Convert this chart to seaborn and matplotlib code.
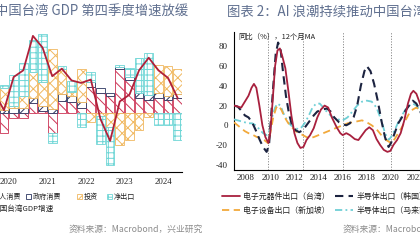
import numpy as np
import pandas as pd
import matplotlib
matplotlib.use("Agg")
import matplotlib.pyplot as plt
import seaborn as sns
from matplotlib.patches import Patch
from matplotlib.lines import Line2D

# ---------------- left chart data (contributions, ppt) ----------------
quarters = ["2020Q1", "2020Q2", "2020Q3", "2020Q4",
            "2021Q1", "2021Q2", "2021Q3", "2021Q4",
            "2022Q1", "2022Q2", "2022Q3", "2022Q4",
            "2023Q1", "2023Q2", "2023Q3", "2023Q4",
            "2024Q1", "2024Q2", "2024Q3", "2024Q4"]
private_cons = [0.6, -2.4, -0.6, -0.6, 1.2, 0.3, -2.3, 1.5, 1.3, 0.6, 3.1, 2.4,
                2.0, 5.3, 4.0, 1.8, 1.6, 1.8, 1.6, 1.8]
gov_cons = [0.4, 0.4, 0.6, 0.6, 0.6, 0.6, 0.5, 0.8, 0.7, 0.7, 0.6, 0.6,
            0.4, 0.2, 0.3, 0.6, 0.6, 0.6, 0.5, 0.5]
investment = [1.0, 2.6, 0.2, 1.4, 3.1, 2.8, 7.1, 3.0, 0.5, 3.9, -1.0, -0.3,
              -1.7, -3.8, -3.2, -2.0, -0.5, 3.3, 3.5, 3.0]
net_exports = [0.5, 0.3, 3.7, 4.0, 3.8, 5.7, -1.2, 0.3, 1.3, -1.6, 1.2, -3.4,
               -4.5, 0.2, 1.1, 4.2, 5.0, -1.4, -1.4, -3.2]
gdp_growth = [2.5, 0.35, 4.3, 5.1, 9.2, 7.8, 4.4, 5.3, 3.9, 3.6, 4.0, -0.7,
              -3.3, 1.4, 2.2, 5.1, 6.6, 5.1, 4.2, 1.8]
year_labels = ["2020", "2021", "2022", "2023", "2024"]
left_series_names = ["私人消费", "政府消费", "投资", "净出口"]
gdp_name = "中国台湾GDP增速"

# ---------------- right chart data (yoy %, 12m MA) ----------------
tw_x = [2007.0, 2007.3, 2007.6, 2007.9, 2008.2, 2008.45, 2008.65, 2008.85, 2009.1, 2009.35,
        2009.6, 2009.85, 2010.0, 2010.2, 2010.4, 2010.6, 2010.8, 2011.0, 2011.25, 2011.5,
        2011.75, 2012.0, 2012.25, 2012.5, 2012.75, 2013.0, 2013.3, 2013.6, 2013.9, 2014.2,
        2014.5, 2014.8, 2015.1, 2015.5, 2015.8, 2016.0, 2016.3, 2016.6, 2017.0, 2017.3,
        2017.6, 2017.9, 2018.2, 2018.5, 2018.8, 2019.1, 2019.4, 2019.7, 2019.95, 2020.2,
        2020.5, 2020.8, 2021.1, 2021.4, 2021.65, 2021.85, 2022.1, 2022.4, 2022.7, 2023.0]
tw_y = [20, 19, 18, 24, 30, 38, 42, 38, 20, 0,
        -12, -18, -8, 25, 60, 76, 78, 70, 58, 35,
        10, -8, -18, -23, -22, -15, -10, -3, 8, 16,
        20, 18, 8, -2, -8, -10, -8, -10, -14, -15,
        -10, -5, -2, -5, -14, -20, -25, -27, -26, -20,
        -15, -8, 5, 22, 32, 35, 32, 22, 10, -2]
kr_x = [2007.0, 2007.3, 2007.6, 2007.9, 2008.2, 2008.5, 2008.8, 2009.1, 2009.4, 2009.7,
        2009.9, 2010.05, 2010.25, 2010.45, 2010.65, 2010.85, 2011.05, 2011.3, 2011.55, 2011.8,
        2012.1, 2012.4, 2012.7, 2013.0, 2013.3, 2013.6, 2013.9, 2014.3, 2014.7, 2015.0,
        2015.3, 2015.7, 2016.0, 2016.3, 2016.6, 2016.9, 2017.2, 2017.5, 2017.8, 2018.0,
        2018.3, 2018.6, 2018.9, 2019.2, 2019.5, 2019.8, 2020.0, 2020.3, 2020.6, 2020.9,
        2021.2, 2021.5, 2021.8, 2022.1, 2022.4, 2022.7, 2023.0]
kr_y = [20, 19, 15, 10, 8, 3, -5, -14, -22, -27,
        -20, 5, 40, 72, 84, 78, 55, 30, 12, 0,
        -5, -7, -5, 0, 5, 10, 14, 16, 17, 14,
        8, 3, 1, 0, 2, 8, 20, 40, 55, 60,
        55, 42, 25, 5, -12, -22, -18, -8, 2, 8,
        15, 20, 25, 22, 15, 5, -10]
sg_x = [2007.0, 2007.3, 2007.6, 2007.9, 2008.2, 2008.6, 2008.9, 2009.2, 2009.5, 2009.8,
        2010.0, 2010.25, 2010.5, 2010.7, 2010.95, 2011.2, 2011.5, 2011.8, 2012.1, 2012.4,
        2012.7, 2013.0, 2013.3, 2013.6, 2014.0, 2014.4, 2014.8, 2015.2, 2015.6, 2016.0,
        2016.4, 2016.8, 2017.2, 2017.6, 2018.0, 2018.4, 2018.8, 2019.2, 2019.6, 2020.0,
        2020.3, 2020.6, 2020.9, 2021.2, 2021.5, 2021.8, 2022.1, 2022.4, 2022.7, 2023.0]
sg_y = [3, 0, -3, -6, -8, -10, -12, -13, -15, -18,
        -8, 8, 18, 20, 15, 8, 2, -2, -6, -8,
        -10, -12, -13, -12, -10, -8, -6, -4, -2, 0,
        2, 3, 4, 5, 3, 0, -4, -10, -15, -18,
        -14, -8, -2, 5, 12, 16, 18, 15, 8, 0]
my_x = [2007.0, 2007.3, 2007.6, 2007.9, 2008.2, 2008.5, 2008.8, 2009.1, 2009.4, 2009.7,
        2009.95, 2010.15, 2010.4, 2010.6, 2010.85, 2011.1, 2011.4, 2011.7, 2012.0, 2012.3,
        2012.6, 2012.9, 2013.2, 2013.5, 2013.8, 2014.1, 2014.4, 2014.8, 2015.2, 2015.6,
        2016.0, 2016.4, 2016.8, 2017.2, 2017.6, 2018.0, 2018.4, 2018.8, 2019.2, 2019.5,
        2019.8, 2020.0, 2020.3, 2020.6, 2020.9, 2021.2, 2021.5, 2021.8, 2022.1, 2022.4,
        2022.7, 2023.0]
my_y = [6, 5, 4, 3, 2, 2, 0, -4, -8, -10,
        -5, 8, 18, 22, 20, 12, 5, 0, -2, -4,
        -2, 3, 10, 18, 22, 22, 18, 12, 8, 6,
        5, 8, 14, 20, 24, 25, 24, 18, 5, -8,
        -15, -12, -5, 3, 10, 16, 20, 22, 20, 15,
        8, 2]
right_series_names = ["电子元器件出口（台湾）", "半导体出口（韩国）",
                      "电子设备出口（新加坡）", "半导体出口（马来西亚）"]
right_xticks = [2008, 2010, 2012, 2014, 2016, 2018, 2020, 2022, 2024]
right_yticks = [-40, -20, 0, 20, 40, 60, 80]
event_lines = [2009.8, 2012.7, 2016.0, 2020.0]

# ---------------- styling ----------------
W, H = 420, 240
sns.set_theme(style="white")
plt.rcParams['font.family'] = ['Noto Sans CJK SC', 'DejaVu Sans']
plt.rcParams['hatch.linewidth'] = 0.7
plt.rcParams['axes.unicode_minus'] = False

C_PRIV, C_GOV, C_INV, C_NET = "#cc3355", "#2b3560", "#f0b860", "#6fd6d6"
C_GDP = "#b0203a"
C_TW, C_KR, C_SG, C_MY = "#a8203e", "#1c2340", "#f2a93b", "#6fcfd6"
TITLE_C = "#5f6f8f"
SRC_C = "#8c8c8c"
SERIF = "Liberation Serif"

def fx(x):
    return x / W

def fy(y):
    return 1 - y / H

fig = plt.figure(figsize=(W / 100, H / 100), dpi=100)
fig.patch.set_facecolor("white")

# ================= left chart =================
axL = fig.add_axes([fx(-10.5), fy(172), 193 / W, (172 - 30) / H])
xpos = np.arange(len(quarters))
styles = [(private_cons, C_PRIV, "\\\\\\"), (gov_cons, C_GOV, "//"),
          (investment, C_INV, "xxx"), (net_exports, C_NET, "+++")]
pos_base = np.zeros(len(quarters))
neg_base = np.zeros(len(quarters))
for vals, col, hatch in styles:
    v = np.asarray(vals, dtype=float)
    bottom = np.where(v >= 0, pos_base, neg_base)
    sns.barplot(x=xpos, y=v, ax=axL, native_scale=True, width=0.9,
                color="white", saturation=1, errorbar=None,
                edgecolor=col, hatch=hatch, linewidth=0.6, bottom=bottom)
    pos_base += np.where(v >= 0, v, 0)
    neg_base += np.where(v < 0, v, 0)
sns.lineplot(x=xpos, y=gdp_growth, ax=axL, color=C_GDP, lw=1.3, zorder=5, legend=False)

axL.set_xlim(-0.5, len(quarters) - 0.5)
axL.set_ylim(-7.0, 9.9)
bounds = [-0.5 + 4 * k for k in range(len(year_labels) + 1)]
centers = [1.5 + 4 * k for k in range(len(year_labels))]
axL.set_xticks(bounds)
axL.set_xticklabels([""] * len(bounds))
axL.set_xticks(centers, minor=True)
axL.set_xticklabels(year_labels, minor=True)
axL.tick_params(axis="x", which="major", length=3.5, width=0.8, direction="out", color="black")
axL.tick_params(axis="x", which="minor", length=0, pad=4, labelsize=6.3,
                labelfontfamily=SERIF, labelcolor="#222222")
axL.set_yticks([])
axL.set_xlabel("")
axL.set_ylabel("")
for s in ["left", "top", "right"]:
    axL.spines[s].set_visible(False)
axL.spines["bottom"].set_color("black")
axL.spines["bottom"].set_linewidth(0.8)
axL.set_facecolor("none")

# ================= right chart =================
axR = fig.add_axes([fx(234), fy(169.6), (451.4 - 234) / W, (169.6 - 31.7) / H])
for xv in event_lines:
    axR.axvline(xv, color="#8a8a8a", lw=0.7, ls=(0, (1.2, 1.6)), zorder=1)
sns.lineplot(x=my_x, y=my_y, ax=axR, color=C_MY, lw=1.3, ls=(0, (4, 1.8, 1, 1.8)), sort=False, legend=False, zorder=3)
sns.lineplot(x=sg_x, y=sg_y, ax=axR, color=C_SG, lw=1.3, ls=(0, (4, 2.5)), sort=False, legend=False, zorder=3)
sns.lineplot(x=kr_x, y=kr_y, ax=axR, color=C_KR, lw=1.5, ls=(0, (4, 2.5)), sort=False, legend=False, zorder=4)
sns.lineplot(x=tw_x, y=tw_y, ax=axR, color=C_TW, lw=1.3, sort=False, legend=False, zorder=5)
axR.set_xlim(2007.0, 2025.0)
axR.set_ylim(-45, 95)
axR.set_xticks(right_xticks)
axR.set_xticklabels([str(t) for t in right_xticks])
axR.set_yticks(right_yticks)
axR.set_yticklabels([str(t) for t in right_yticks])
axR.tick_params(axis="both", which="major", labelsize=6.5, labelfontfamily=SERIF,
                labelcolor="#222222", color="black", width=0.7)
axR.tick_params(axis="y", length=3, direction="out", pad=1.5)
axR.tick_params(axis="x", length=2.5, direction="in", pad=3)
axR.set_xlabel("")
axR.set_ylabel("")
for s in ["top", "right"]:
    axR.spines[s].set_visible(False)
for s in ["left", "bottom"]:
    axR.spines[s].set_color("black")
    axR.spines[s].set_linewidth(0.8)
axR.set_facecolor("none")
fig.text(fx(238), fy(37), "同比（%），12个月MA", fontsize=5.3, color="#222222",
         ha="left", va="center")

# ================= titles & sources =================
fig.text(fx(188), fy(12), "中国台湾 GDP 第四季度增速放缓", fontsize=9.6, color=TITLE_C,
         ha="right", va="center")
fig.text(fx(227), fy(12), "图表 2：AI 浪潮持续推动中国台湾出口", fontsize=9.6, color=TITLE_C,
         ha="left", va="center")
fig.text(fx(203), fy(229), "资料来源：Macrobond，兴业研究", fontsize=6.3, color=SRC_C,
         ha="right", va="center")
fig.text(fx(343), fy(229), "资料来源：Macrobond，兴业研究", fontsize=6.3, color=SRC_C,
         ha="left", va="center")

# ================= legends =================
def legend_item(handle, label, x_px, y_px, fs, hl, hh=0.7, pad=0.3):
    fig.legend(handles=[handle], labels=[label], loc="center left",
               bbox_to_anchor=(fx(x_px), fy(y_px)), frameon=False,
               fontsize=fs, handlelength=hl, handleheight=hh,
               handletextpad=pad, borderpad=0, borderaxespad=0,
               labelcolor="#222222")

patch_styles = [(C_PRIV, "\\\\\\"), (C_GOV, "//"), (C_INV, "xxx"), (C_NET, "+++")]
left_leg_x = [-13.5, 26, 77, 107]
for name, (col, hatch), xp in zip(left_series_names, patch_styles, left_leg_x):
    h = Patch(facecolor="white", edgecolor=col, hatch=hatch, lw=0.6)
    legend_item(h, name, xp, 197, 5.1, 0.75, 0.75, 0.2)
legend_item(Line2D([], [], color=C_GDP, lw=1.3), gdp_name, -28, 209, 5.5, 2.3, 0.7, 0.3)

right_handles = [Line2D([], [], color=C_TW, lw=1.3),
                 Line2D([], [], color=C_KR, lw=1.5, ls=(0, (4, 2.5))),
                 Line2D([], [], color=C_SG, lw=1.3, ls=(0, (4, 2.5))),
                 Line2D([], [], color=C_MY, lw=1.3, ls=(0, (4, 1.8, 1, 1.8)))]
right_pos = [(222, 196), (335, 196), (222, 210), (335, 210)]
for h, name, (xp, yp) in zip(right_handles, right_series_names, right_pos):
    legend_item(h, name, xp, yp, 5.7, 2.3, 0.7, 0.4)

fig.savefig("out.png", dpi=100, facecolor="white")
